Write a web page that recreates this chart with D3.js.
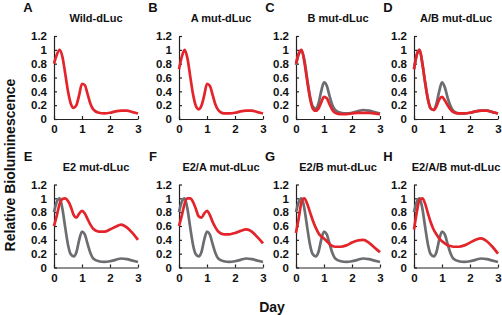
<!DOCTYPE html>
<html>
<head>
<meta charset="utf-8">
<script src="https://cdn.jsdelivr.net/npm/d3@7"></script>
<style>
  body { margin: 0; background: #fff; }
  svg text { font-family: Arial, 'Liberation Sans', sans-serif; font-weight: bold; fill: #111; }
  .axis path, .axis line { stroke: #222; stroke-width: 1.2; }
</style>
</head>
<body>
<div id="chart"></div>
<script>
'use strict';
// sample days shared by every curve
const days = [0, 0.1, 0.2, 0.3, 0.4, 0.5, 0.6, 0.7, 0.8, 0.9, 1.0, 1.1, 1.2, 1.3, 1.4, 1.6, 1.8, 2.0, 2.2, 2.4, 2.6, 2.8, 3.0]
const xTicks = [0, 1, 2, 3]
const yTicks = [0, 0.2, 0.4, 0.6, 0.8, 1, 1.2]
const panelLetters = ['A', 'B', 'C', 'D', 'E', 'F', 'G', 'H']
const panelTitles = ['Wild-dLuc', 'A mut-dLuc', 'B mut-dLuc', 'A/B mut-dLuc', 'E2 mut-dLuc', 'E2/A mut-dLuc', 'E2/B mut-dLuc', 'E2/A/B mut-dLuc']

// red curves (mutant reporters)
const wildRed  = [.80, .93, 1.0, .90, .66, .40, .22, .16, .20, .35, .51, .49, .36, .22, .14, .09, .08, .09, .11, .12, .12, .10, .08]
const aMutRed  = [.72, .90, 1.0, .88, .62, .36, .19, .14, .19, .34, .51, .48, .35, .21, .13, .08, .08, .09, .11, .12, .12, .10, .08]
const bMutRed  = [.80, .95, 1.0, .82, .55, .30, .15, .12, .15, .24, .32, .30, .21, .13, .09, .07, .07, .08, .09, .09, .09, .08, .07]
const abMutRed = [.72, .93, 1.0, .80, .52, .28, .15, .13, .18, .28, .32, .27, .20, .14, .10, .08, .08, .09, .11, .12, .12, .10, .08]
const e2Red    = [.60, .75, .92, .99, 1.0, .96, .88, .76, .72, .78, .82, .78, .70, .62, .56, .52, .52, .55, .59, .62, .58, .50, .40]
const e2aRed   = [.60, .75, .92, 1.0, 1.0, .95, .85, .74, .72, .78, .82, .76, .66, .58, .52, .48, .48, .50, .53, .55, .52, .44, .35]
const e2bRed   = [.50, .72, .95, 1.0, .92, .80, .68, .58, .50, .45, .42, .38, .34, .31, .30, .30, .32, .36, .39, .40, .36, .29, .22]
const e2abRed  = [.55, .80, .98, 1.0, .92, .78, .65, .55, .48, .42, .38, .35, .32, .31, .30, .30, .32, .36, .40, .42, .38, .30, .20]

// gray curves (wild-type reference)
const bMutGray  = [.78, .94, .99, .85, .58, .33, .18, .15, .22, .40, .53, .48, .33, .20, .13, .09, .08, .09, .11, .13, .12, .10, .08]
const abMutGray = [.72, .93, 1.0, .80, .52, .28, .15, .13, .22, .40, .53, .46, .31, .19, .12, .08, .08, .09, .11, .12, .12, .10, .08]
const e2Gray    = [.80, .95, 1.0, .85, .58, .33, .19, .16, .22, .40, .52, .48, .34, .21, .13, .09, .08, .09, .11, .13, .12, .10, .08]

const redByPanel = [wildRed, aMutRed, bMutRed, abMutRed, e2Red, e2aRed, e2bRed, e2abRed]
const grayByPanel = [null, null, bMutGray, abMutGray, e2Gray, e2Gray, e2Gray, e2Gray]

const wRed = '#e3242b'
const wGray = '#6b6d70'
const colX = [54, 179, 296, 414]
const rowBase = [119, 267.5]
const plotW = 84
const plotH = 83

const svg = d3.select('#chart').append('svg')
    .attr('width', 502)
    .attr('height', 315)

const x = d3.scaleLinear().domain([0, 3]).range([0, plotW])
const y = d3.scaleLinear().domain([0, 1.2]).range([plotH, 0])

const line = d3.line()
    .x(function(d) { return x(d[0]) })
    .y(function(d) { return y(d[1]) })
    .curve(d3.curveMonotoneX)

panelTitles.forEach(function(title, i) {
    const col = i % 4
    const row = Math.floor(i / 4)
    const g = svg.append('g')
        .attr('transform', `translate(${colX[col]},${rowBase[row] - plotH})`)

    g.append('g') // x axis
        .attr('class', 'axis')
        .attr('transform', `translate(0,${plotH})`)
        .call(d3.axisBottom(x).tickValues(xTicks).tickFormat(function(d) { return String(d) })
            .tickSize(-3).tickPadding(6).tickSizeOuter(0))
    g.append('g') // y axis
        .attr('class', 'axis')
        .call(d3.axisLeft(y).tickValues(yTicks).tickFormat(function(d) { return String(d) })
            .tickSize(-3).tickPadding(7).tickSizeOuter(0))
    g.selectAll('.axis text')
        .attr('font-size', 11.5)
        .attr('font-family', 'Arial, Liberation Sans, sans-serif')

    const gray = grayByPanel[i]
    if (gray) {
        g.append('path').datum(days.map(function(d, k) { return [d, gray[k]] }))
            .attr('fill', 'none')
            .attr('stroke', wGray)
            .attr('stroke-width', 2.7)
            .attr('d', line)
    }
    const red = redByPanel[i]
    g.append('path').datum(days.map(function(d, k) { return [d, red[k]] }))
        .attr('fill', 'none')
        .attr('stroke', wRed)
        .attr('stroke-width', 2.7)
        .attr('d', line)

    g.append('text') // panel title
        .attr('x', plotW / 2)
        .attr('y', -14)
        .attr('text-anchor', 'middle')
        .attr('font-size', 11)
        .text(title)
    g.append('text') // panel letter
        .attr('x', -26)
        .attr('y', -24)
        .attr('text-anchor', 'middle')
        .attr('font-size', 13)
        .text(panelLetters[i])
})

svg.append('text') // y axis label
    .attr('transform', 'rotate(-90)')
    .attr('x', -165)
    .attr('y', 15)
    .attr('text-anchor', 'middle')
    .attr('font-size', 14)
    .text('Relative Bioluminescence')
svg.append('text') // x axis label
    .attr('x', 272)
    .attr('y', 312)
    .attr('text-anchor', 'middle')
    .attr('font-size', 14)
    .text('Day')
</script>
</body>
</html>
